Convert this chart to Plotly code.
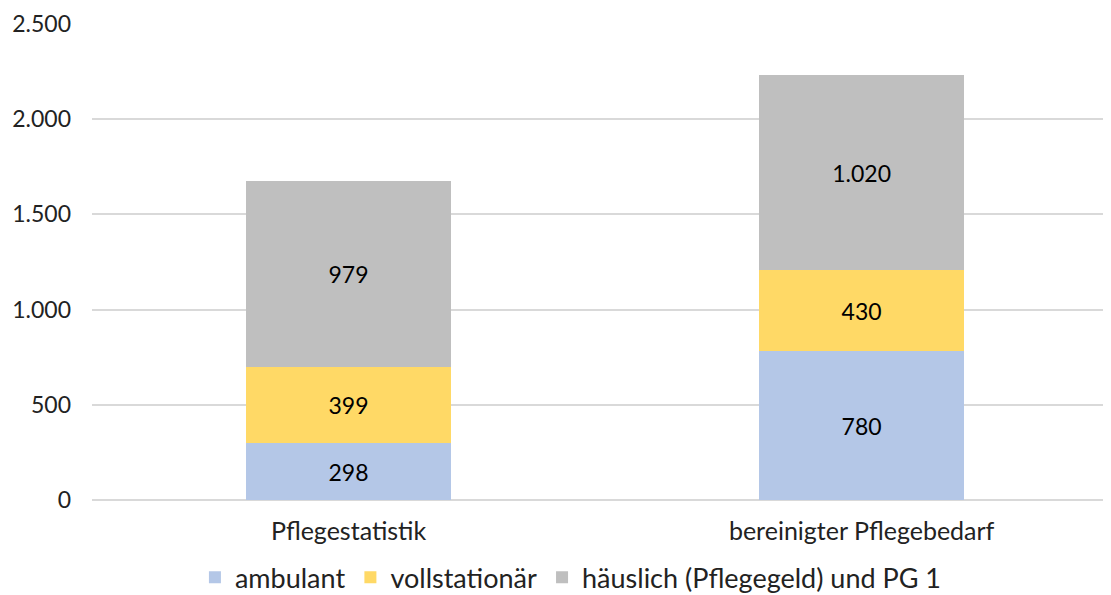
import plotly.graph_objects as go

categories = ["Pflegestatistik", "bereinigter Pflegebedarf"]
series_names = ["ambulant", "vollstationär", "häuslich (Pflegegeld) und PG 1"]
ambulant = [298, 780]
vollstationaer = [399, 430]
haeuslich = [979, 1020]
colors = ["#b4c7e7", "#ffd966", "#bfbfbf"]

fig = go.Figure()
for name, vals, col in zip(series_names, [ambulant, vollstationaer, haeuslich], colors):
    fig.add_trace(go.Bar(
        x=categories, y=vals, name=name, marker_color=col, marker_line_width=0,
        width=0.4, texttemplate="%{y:,.0f}", textposition="inside",
        insidetextanchor="middle", textangle=0,
        textfont=dict(color="#000000", size=23),
    ))

fig.update_layout(
    barmode="stack",
    width=1111, height=595,
    margin=dict(l=84, r=8, t=16, b=103, autoexpand=False),
    paper_bgcolor="white", plot_bgcolor="white",
    separators=",.",
    font=dict(family="Lato, sans-serif", size=24, color="#222222"),
    showlegend=True,
    legend=dict(orientation="h", x=0.47, xanchor="center", y=-0.112, yanchor="top",
                font=dict(size=27, color="#222222"), traceorder="normal",
                itemwidth=30),
    uniformtext=dict(mode=False),
)
fig.update_xaxes(range=[-0.5, 1.486], showgrid=False, showline=False, ticks="",
                 tickfont=dict(size=25), ticklabelstandoff=14)
fig.update_yaxes(range=[0, 2500], dtick=500, tickformat=",.0f", showgrid=True,
                 gridcolor="#d9d9d9", gridwidth=2, zeroline=True, zerolinecolor="#d9d9d9",
                 zerolinewidth=2, showline=False, ticks="", ticklabelstandoff=20,
                 tickfont=dict(size=23))

fig.write_html("out.html")
